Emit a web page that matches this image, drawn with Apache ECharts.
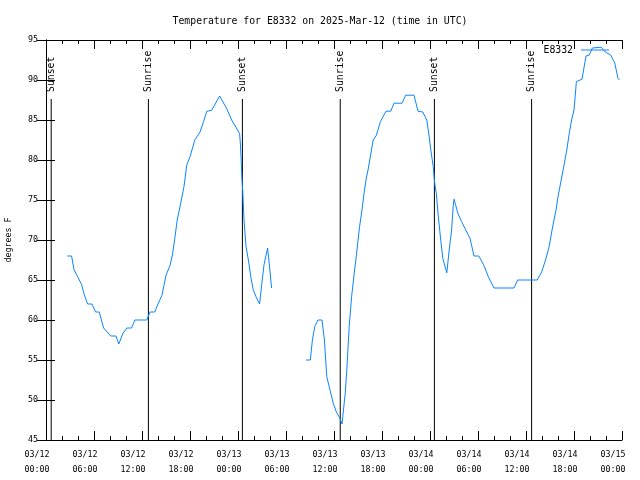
<!DOCTYPE html>
<html>
<head>
<meta charset="utf-8">
<script src="https://cdn.jsdelivr.net/npm/echarts@6/dist/echarts.min.js"></script>
<style>html,body{margin:0;padding:0;background:#fff}#c{width:640px;height:480px}</style>
</head>
<body>
<div id="c"></div>
<script>
// Hours since 2025-03-12 00:00 UTC, and temperature (deg F); null = gap
const hours = [2.66,3.2,3.5,3.96,4.46,4.8,5.2,5.75,6.2,6.66,7.2,8.1,8.75,9.1,9.6,10.1,10.7,11.1,12.6,13.0,13.6,14.0,14.5,15.0,15.5,15.8,16.1,16.4,16.8,17.25,17.6,18.0,18.6,19.25,19.7,20.1,20.7,21.7,22.6,23.2,23.8,24.2,24.3,24.4,24.46,24.5,24.6,24.75,25.0,25.3,25.6,25.9,26.25,26.7,26.96,27.25,27.7,27.9,28.2,
  30.3,
  32.5,33.04,33.3,33.6,34.0,34.5,34.8,35.1,35.5,35.9,36.3,36.75,37.0,37.4,37.6,37.9,38.2,38.5,38.8,39.2,39.5,39.75,40.0,40.3,40.9,41.3,41.8,42.5,43.1,43.5,44.5,44.96,46.0,46.5,47.1,47.6,47.9,48.1,48.25,48.4,48.5,48.55,48.65,48.8,49.0,49.3,49.6,50.1,50.4,50.7,50.9,51.0,51.2,51.5,51.95,52.6,53.0,53.5,54.1,54.7,55.3,56.0,58.5,58.96,61.4,61.96,62.5,62.9,63.3,63.75,64.0,64.4,64.8,65.1,65.4,65.7,66.0,66.3,67.0,67.5,67.9,68.3,69.4,69.9,70.6,71.1,71.5,71.7];
const tempF = [68,68,66.3,65.4,64.4,63.1,62,62,61,61,59,58,58,57,58.3,59,59,60,60,61,61,62,63.1,65.6,66.8,68.1,70.2,72.5,74.4,76.7,79.4,80.4,82.5,83.5,84.8,86.1,86.2,88,86.4,85,84,83.3,82,80,78.3,77.5,76,72.5,69.2,67.5,65.4,63.8,62.9,62,64.4,66.9,69,67.1,64,
  null,
  55,55,57.5,59.2,60,60,57.5,52.9,51.25,49.6,48.5,47.7,47,50.8,53.75,59.2,62.9,65.6,68.1,71.7,73.75,75.8,77.5,79,82.5,83.1,84.8,86.1,86.1,87.1,87.1,88.1,88.1,86.1,86,85,82.9,81.25,80.2,79.2,78,77.5,76.7,75.8,73.3,70.4,67.7,65.9,68.75,71.25,74.2,75.1,74.4,73.3,72.3,71,70.2,68,68,66.9,65.4,64,64,65,65,66,67.7,69.2,71.5,73.75,75.4,77.5,79.6,81.25,83.3,85,86.25,89.8,90.1,93,93.1,94,94.1,93.5,93.1,92.1,90.2,90];
const eventHours = [0.65, 12.8, 24.55, 36.78, 48.55, 60.7];
const eventNames = ['Sunset','Sunrise','Sunset','Sunrise','Sunset','Sunrise'];
const xTickLabels = ['03/12\n00:00','03/12\n06:00','03/12\n12:00','03/12\n18:00','03/13\n00:00','03/13\n06:00','03/13\n12:00','03/13\n18:00','03/14\n00:00','03/14\n06:00','03/14\n12:00','03/14\n18:00','03/15\n00:00'];
const seriesName = 'E8332';
const titleText = 'Temperature for E8332 on 2025-Mar-12 (time in UTC)';
const yName = 'degrees F';

const FONT = 'DejaVu Sans Mono';
const LINE_COLOR = '#0a84ff';
const lineData = hours.map((h, i) => [h, tempF[i]]);
const eventData = eventHours.map((h, i) => [h, eventNames[i]]);

const xCommon = {
  type: 'value', min: 0, max: 72, interval: 6,
  axisLine: {lineStyle: {color: '#000', width: 1}},
  axisTick: {inside: true, length: 9, lineStyle: {color: '#000'}},
  minorTick: {show: true, splitNumber: 3, length: 4, lineStyle: {color: '#000'}},
  splitLine: {show: false}
};
const yCommon = {
  type: 'value', min: 45, max: 95, interval: 5,
  axisLine: {show: true, lineStyle: {color: '#000', width: 1}},
  axisTick: {show: true, inside: true, length: 9, lineStyle: {color: '#000'}},
  splitLine: {show: false}
};

const chart = echarts.init(document.getElementById('c'), null, {renderer: 'canvas'});
chart.setOption({
  animation: false,
  backgroundColor: '#fff',
  title: {text: titleText, left: 'center', top: 11, textStyle: {fontFamily: FONT, fontSize: 9.8, fontWeight: 'normal', color: '#000'}},
  legend: {
    data: [{name: seriesName, icon: 'rect'}], right: 26, top: 40, align: 'right', itemWidth: 28, itemHeight: 1, itemGap: 0,
    textStyle: {fontFamily: FONT, fontSize: 9.8, color: '#000', padding: [0, 3, 0, 0]}
  },
  grid: {left: 46, right: 18, top: 40, bottom: 40, containLabel: false, outerBoundsMode: 'none'},
  xAxis: [
    Object.assign({}, xCommon, {position: 'bottom',
      axisLabel: {fontFamily: FONT, fontSize: 8.3, color: '#000', margin: 7, lineHeight: 15,
        padding: [0, 18, 0, 0],
        formatter: v => xTickLabels[Math.round(v / 6)]}}),
    Object.assign({}, xCommon, {position: 'top', axisLabel: {show: false}})
  ],
  yAxis: [
    Object.assign({}, yCommon, {position: 'left', name: yName, nameLocation: 'middle', nameGap: 33,
      nameTextStyle: {fontFamily: FONT, fontSize: 8.3, color: '#000'},
      axisLabel: {fontFamily: FONT, fontSize: 8.3, color: '#000', margin: 8}}),
    Object.assign({}, yCommon, {position: 'right', axisLabel: {show: false}})
  ],
  series: [
    {
      name: seriesName, type: 'line', data: lineData, showSymbol: false, symbol: 'none',
      connectNulls: false, lineStyle: {color: LINE_COLOR, width: 1}, itemStyle: {color: LINE_COLOR},
      z: 3
    },
    {
      type: 'custom', data: eventData, silent: true, z: 2,
      renderItem: function (params, api) {
        const h = api.value(0);
        const bottom = api.coord([h, 45]);
        const top = api.coord([h, 95]);
        const lineTop = top[1] + 59;
        return {
          type: 'group',
          children: [
            {type: 'line', shape: {x1: bottom[0], y1: bottom[1], x2: bottom[0], y2: lineTop},
             style: {stroke: '#000', lineWidth: 1}},
            {type: 'text', x: bottom[0], y: lineTop - 7, rotation: Math.PI / 2,
             style: {text: eventNames[params.dataIndex], fontFamily: FONT, fontSize: 9.8, fill: '#000',
                     textAlign: 'left', textVerticalAlign: 'middle'}}
          ]
        };
      }
    }
  ]
});
</script>
</body>
</html>
